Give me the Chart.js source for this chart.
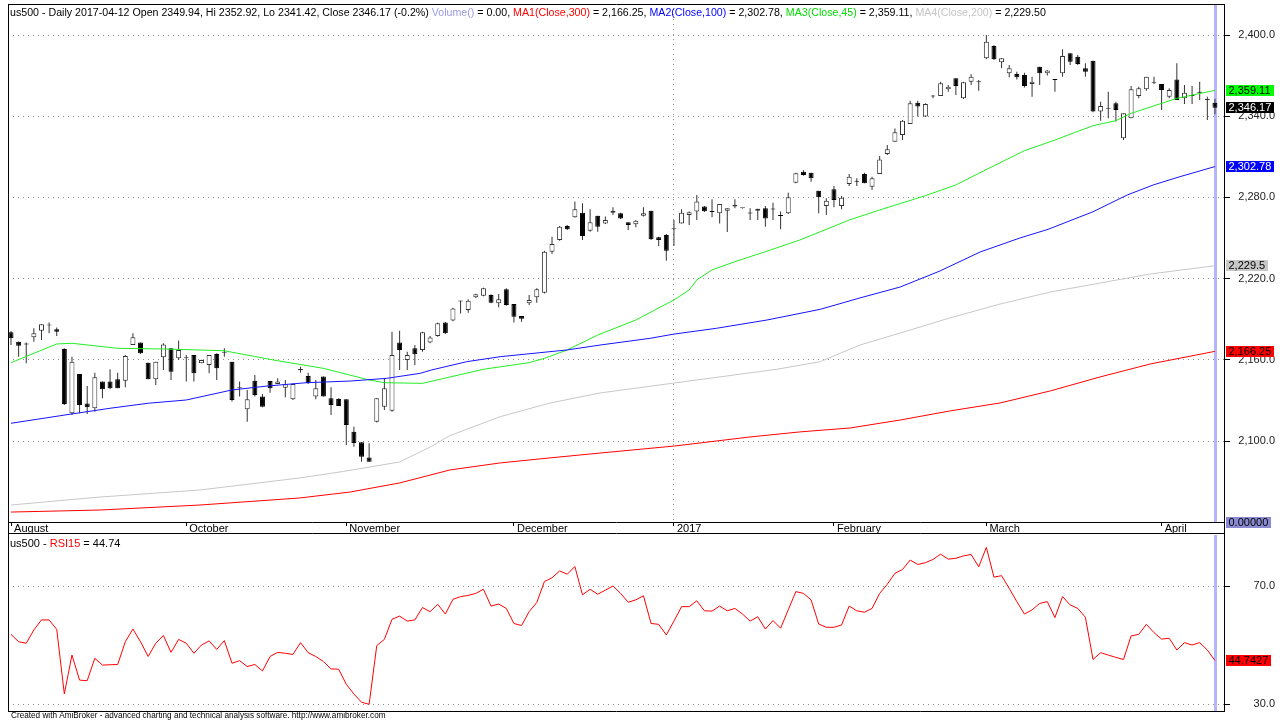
<!DOCTYPE html>
<html>
<head>
<meta charset="utf-8">
<script src="https://cdn.jsdelivr.net/npm/chart.js@4.4.1/dist/chart.umd.min.js"></script>
<style>
  html, body { margin: 0; padding: 0; background: #fff; }
  #wrap { position: relative; width: 1287px; height: 720px; overflow: hidden; background: #fff; }
  canvas { position: absolute; left: 0; }
  #main { top: 0; }
  #rsi { top: 534px; }
</style>
</head>
<body>
<div id="wrap">
  <canvas id="main" width="1287" height="534"></canvas>
  <canvas id="rsi" width="1287" height="186"></canvas>
</div>
<script>
'use strict';

/* ── data (bar index 0 = first bar, 158 = 2017-04-12) ── */

const opens = [
  2180.3, 2173.4, 2171.4, 2176.6, 2181.5, 2185.3, 2182.5, 2168.0, 2120.5, 2149.5,
  2127.8, 2124.2, 2143.9, 2143.9, 2145.6, 2144.6, 2171.0, 2172.7, 2157.9, 2145.6,
  2161.8, 2168.5, 2161.1, 2161.1, 2163.6, 2157.4, 2156.2, 2164.3, 2165.3, 2158.6,
  2138.9, 2123.4, 2144.6, 2132.8, 2144.3, 2142.1, 2139.4, 2130.8, 2152.5, 2148.0,
  2132.8, 2147.6, 2131.5, 2131.0, 2130.8, 2106.9, 2099.0, 2087.9, 2114.3, 2125.4,
  2122.4, 2172.7, 2159.9, 2168.5, 2167.3, 2172.7, 2177.6, 2187.5, 2189.0, 2203.0,
  2196.8, 2206.2, 2207.4, 2207.9, 2201.7, 2212.1, 2201.2, 2192.4, 2201.7, 2206.2,
  2209.6, 2239.9, 2248.5, 2258.9, 2265.3, 2268.7, 2255.4, 2266.5, 2260.8, 2268.7,
  2268.2, 2261.6, 2260.1, 2266.5, 2270.2, 2250.5, 2252.2, 2256.4, 2260.8, 2267.0,
  2269.5, 2273.2, 2269.5, 2268.2, 2270.2, 2273.2, 2271.9, 2268.2, 2270.2, 2271.9,
  2271.2, 2266.3, 2268.2, 2290.9, 2299.0, 2298.3, 2285.0, 2273.7, 2286.0, 2273.7,
  2289.9, 2291.7, 2297.3, 2287.9, 2297.3, 2312.1, 2321.2, 2326.1, 2334.2, 2350.0,
  2339.7, 2354.5, 2354.9, 2359.9, 2368.0, 2353.2, 2365.5, 2365.0, 2382.8, 2391.9,
  2379.8, 2371.7, 2371.2, 2370.5, 2363.8, 2376.6, 2371.7, 2366.8, 2371.7, 2386.5,
  2384.0, 2375.4, 2381.0, 2343.4, 2345.6, 2349.5, 2323.7, 2338.4, 2354.9, 2359.9,
  2364.3, 2363.8, 2354.4, 2367.2, 2353.2, 2355.0, 2357.5, 2352.0, 2349.94
];
const highs = [
  2181.3, 2173.6, 2172.7, 2183.3, 2186.2, 2187.5, 2183.8, 2168.5, 2162.3, 2149.5,
  2140.7, 2150.5, 2143.9, 2153.0, 2150.5, 2163.6, 2179.6, 2172.7, 2158.0, 2158.6,
  2172.2, 2168.5, 2174.2, 2163.6, 2163.6, 2160.0, 2163.6, 2164.8, 2168.5, 2158.6,
  2143.9, 2137.7, 2148.8, 2134.7, 2144.3, 2146.3, 2145.1, 2142.6, 2154.9, 2150.5,
  2145.1, 2147.6, 2139.7, 2131.5, 2130.8, 2110.6, 2099.0, 2098.3, 2131.5, 2145.8,
  2180.8, 2181.5, 2166.0, 2170.9, 2180.8, 2177.6, 2187.5, 2188.0, 2198.5, 2203.7,
  2204.7, 2208.9, 2213.3, 2208.4, 2208.6, 2212.8, 2201.2, 2192.4, 2207.9, 2212.8,
  2240.5, 2251.0, 2258.9, 2259.6, 2276.9, 2275.6, 2271.2, 2266.5, 2265.8, 2272.7,
  2268.7, 2261.6, 2263.3, 2272.7, 2270.2, 2251.0, 2253.0, 2263.3, 2271.2, 2269.5,
  2281.8, 2273.7, 2278.6, 2275.1, 2271.9, 2278.6, 2272.1, 2271.9, 2271.7, 2273.7,
  2276.1, 2269.5, 2283.5, 2298.2, 2300.0, 2298.3, 2285.0, 2279.3, 2288.4, 2281.0,
  2297.3, 2294.1, 2298.3, 2295.3, 2310.6, 2318.7, 2331.0, 2337.2, 2351.5, 2351.5,
  2349.5, 2355.7, 2365.5, 2363.1, 2368.0, 2365.5, 2371.0, 2366.8, 2400.0, 2392.4,
  2382.8, 2377.8, 2372.9, 2372.2, 2369.2, 2376.6, 2374.1, 2366.8, 2389.4, 2386.5,
  2385.2, 2379.1, 2381.0, 2350.7, 2358.1, 2350.7, 2342.1, 2362.3, 2361.8, 2369.2,
  2369.2, 2363.8, 2360.6, 2379.1, 2363.1, 2362.3, 2365.5, 2354.4, 2352.92
];
const lows = [
  2170.9, 2162.3, 2157.4, 2173.4, 2174.6, 2179.6, 2177.6, 2126.6, 2119.2, 2120.5,
  2120.0, 2121.7, 2131.5, 2138.2, 2138.9, 2139.7, 2171.0, 2164.3, 2145.6, 2141.4,
  2152.5, 2145.1, 2159.9, 2143.9, 2143.9, 2157.4, 2150.0, 2145.1, 2162.3, 2129.1,
  2132.8, 2114.3, 2132.8, 2124.9, 2135.7, 2142.1, 2132.3, 2130.3, 2150.5, 2142.1,
  2130.8, 2132.8, 2119.2, 2125.9, 2097.1, 2095.8, 2084.7, 2084.7, 2113.6, 2122.9,
  2121.7, 2152.5, 2152.5, 2156.2, 2166.0, 2172.2, 2177.0, 2179.0, 2188.5, 2194.3,
  2194.8, 2205.7, 2207.0, 2201.7, 2198.8, 2200.0, 2187.5, 2188.2, 2200.5, 2202.2,
  2209.0, 2238.2, 2248.0, 2256.0, 2265.0, 2248.5, 2254.7, 2254.7, 2260.4, 2267.0,
  2264.0, 2255.9, 2257.9, 2265.8, 2248.5, 2244.1, 2233.2, 2244.1, 2260.8, 2259.6,
  2263.3, 2269.2, 2265.3, 2260.8, 2254.4, 2271.9, 2271.8, 2263.3, 2263.3, 2258.4,
  2263.3, 2256.4, 2267.7, 2290.5, 2296.0, 2291.6, 2268.2, 2267.0, 2272.7, 2271.2,
  2288.4, 2288.4, 2290.4, 2285.5, 2297.3, 2311.3, 2321.2, 2322.4, 2334.2, 2339.7,
  2339.5, 2353.2, 2354.9, 2358.1, 2355.7, 2352.7, 2363.1, 2358.9, 2382.0, 2381.5,
  2375.4, 2368.7, 2367.2, 2361.3, 2354.4, 2363.1, 2370.0, 2358.1, 2369.2, 2377.8,
  2377.8, 2369.2, 2342.9, 2336.7, 2338.4, 2336.0, 2322.4, 2338.4, 2353.2, 2358.9,
  2363.8, 2344.6, 2353.2, 2352.0, 2349.0, 2349.0, 2352.0, 2337.2, 2341.42
];
const closes = [
  2175.9, 2170.4, 2171.3, 2179.6, 2186.2, 2186.0, 2180.8, 2127.4, 2158.6, 2126.6,
  2124.9, 2147.1, 2138.2, 2138.9, 2138.9, 2162.8, 2176.6, 2164.8, 2145.6, 2158.6,
  2171.4, 2151.2, 2167.3, 2161.8, 2150.0, 2159.9, 2163.6, 2153.7, 2165.4, 2130.3,
  2139.0, 2130.8, 2134.0, 2125.4, 2138.9, 2143.9, 2141.9, 2142.1, 2152.6, 2142.6,
  2138.9, 2132.8, 2126.6, 2125.9, 2111.8, 2098.5, 2088.4, 2084.7, 2131.5, 2138.9,
  2163.6, 2167.3, 2163.6, 2164.1, 2180.3, 2176.4, 2187.0, 2179.6, 2198.0, 2203.2,
  2203.7, 2208.4, 2212.8, 2202.2, 2204.7, 2200.5, 2191.9, 2190.4, 2204.2, 2212.1,
  2239.9, 2245.6, 2258.4, 2256.4, 2271.2, 2251.5, 2261.6, 2258.4, 2263.3, 2270.2,
  2264.5, 2259.6, 2262.8, 2268.2, 2249.0, 2248.5, 2240.6, 2256.6, 2268.7, 2269.0,
  2276.9, 2269.7, 2269.3, 2275.1, 2271.9, 2274.6, 2272.0, 2268.1, 2271.7, 2264.5,
  2271.0, 2266.2, 2280.1, 2297.8, 2296.6, 2294.1, 2280.1, 2277.6, 2278.1, 2279.8,
  2295.3, 2291.6, 2290.4, 2294.1, 2308.1, 2315.5, 2328.1, 2336.7, 2349.5, 2347.1,
  2349.0, 2355.2, 2364.3, 2361.8, 2362.3, 2365.0, 2369.2, 2365.1, 2395.1, 2382.0,
  2382.8, 2375.4, 2368.7, 2362.3, 2365.5, 2371.7, 2373.7, 2366.7, 2384.5, 2380.3,
  2378.6, 2372.9, 2343.4, 2347.6, 2346.0, 2344.6, 2342.1, 2359.9, 2360.6, 2369.2,
  2364.4, 2359.4, 2359.4, 2352.0, 2357.4, 2354.9, 2357.4, 2352.1, 2346.17
];

// moving averages, read as [bar index, value] points along each line
const ma300 = [
  [0, 2047.5], [11.7, 2049.0], [24.8, 2052.7], [37.9, 2057.9], [44.5, 2062.3], [51, 2069.0],
  [57.6, 2078.6], [64.2, 2083.8], [70.7, 2087.5], [77.3, 2091.1], [87.1, 2096.3], [97, 2103.0],
  [103.5, 2106.7], [110.1, 2109.6], [116.7, 2115.5], [123.2, 2122.2], [129.8, 2128.1],
  [136.4, 2137.0], [142.9, 2147.3], [149.5, 2156.9], [158, 2166.25]
];
const ma200 = [
  [0, 2052.7], [11.7, 2058.6], [24.8, 2063.8], [37.9, 2072.7], [43.6, 2077.5], [51, 2084.5],
  [55, 2095.5], [57.6, 2104.0], [64.2, 2118.0], [70.7, 2128.0], [77.3, 2135.5], [87.1, 2142.9],
  [100.5, 2153.0], [106.2, 2158.6], [111.4, 2170.9], [116.7, 2179.8], [123.2, 2190.9],
  [129.8, 2201.2], [136.4, 2210.1], [142.9, 2216.7], [149.5, 2223.4], [158, 2229.50]
];
const ma100 = [
  [0, 2113.1], [8, 2120.0], [13, 2124.2], [18, 2127.9], [23, 2130.3], [29, 2137.7], [33.6, 2140.6],
  [38.8, 2143.1], [44.5, 2144.3], [49.3, 2146.3], [53.7, 2150.0], [55.2, 2152.5], [59.8, 2158.6],
  [64.2, 2162.3], [73, 2167.3], [77.3, 2170.9], [83.9, 2175.9], [86.9, 2178.9], [92.6, 2183.3],
  [99.2, 2189.4], [106.2, 2197.3], [111.4, 2205.7], [116.7, 2213.8], [121.9, 2225.6],
  [127.2, 2239.7], [132.4, 2250.0], [136.1, 2256.4], [142, 2269.4], [146.5, 2281.8],
  [149.9, 2289.2], [153.4, 2295.3], [158, 2302.78]
];
const ma45 = [
  [0, 2157.9], [6, 2171.7], [8, 2172.2], [14, 2168.5], [20, 2168.0], [28, 2166.7], [29, 2165.6],
  [35, 2159.3], [41, 2153.7], [47, 2145.1], [49, 2143.1], [54, 2142.6], [62, 2153.0], [68, 2157.9],
  [70, 2161.1], [73, 2167.3], [77, 2178.3], [82, 2189.4], [87, 2204.2], [89, 2211.6], [90, 2219.0],
  [92, 2226.4], [95, 2232.5], [99, 2239.9], [103.5, 2248.5], [107, 2256.4], [110, 2263.3],
  [114, 2270.7], [120, 2281.3], [124, 2289.2], [127, 2297.8], [133, 2314.5], [137, 2322.4],
  [142, 2333.0], [145, 2336.7], [147, 2342.1], [151, 2349.5], [153, 2353.2], [158, 2359.11]
];

const rsi15 = [
  53.6, 51.1, 50.6, 55.1, 58.5, 58.5, 55.3, 33.4, 46.6, 38.1,
  37.9, 45.5, 43.2, 43.3, 43.4, 51.1, 55.4, 51.1, 46.1, 50.6,
  53.2, 47.5, 51.9, 50.6, 47.2, 50.0, 51.4, 48.5, 51.5, 43.8,
  44.7, 42.7, 43.4, 41.2, 46.1, 47.5, 47.2, 46.8, 50.8, 47.4,
  46.1, 44.4, 41.9, 41.8, 36.7, 33.4, 30.6, 29.9, 49.8, 51.9,
  58.7, 59.8, 58.1, 58.5, 62.7, 61.3, 63.8, 60.5, 65.5, 66.4,
  66.8, 67.5, 68.9, 63.2, 63.9, 62.4, 57.3, 56.6, 61.3, 64.4,
  71.5, 72.8, 75.1, 74.0, 76.6, 67.0, 68.9, 67.2, 68.6, 70.0,
  67.5, 64.5, 65.3, 66.7, 57.3, 57.0, 53.4, 58.1, 63.0, 63.0,
  65.0, 61.6, 61.5, 63.2, 61.6, 62.4, 60.5, 58.1, 59.6, 55.4,
  58.3, 55.7, 61.9, 68.1, 67.5, 65.3, 57.1, 56.0, 56.0, 56.8,
  63.2, 61.6, 61.1, 62.4, 67.5, 70.6, 74.3, 75.6, 78.8, 77.3,
  77.9, 79.0, 80.8, 79.1, 79.4, 80.2, 80.7, 76.5, 83.1, 73.0,
  73.5, 69.2, 64.7, 60.5, 61.9, 64.1, 64.7, 59.3, 66.4, 63.6,
  62.4, 59.4, 45.1, 47.4, 46.6, 45.8, 45.1, 53.1, 53.6, 57.0,
  54.2, 52.0, 52.3, 48.3, 50.8, 50.0, 50.8, 48.3, 44.7427
];

const monthTicks = [0, 23, 44, 66, 87, 108, 128, 151];
const monthNames = ['August', 'October', 'November', 'December', '2017', 'February', 'March', 'April'];
const priceTicks = [2100, 2160, 2220, 2280, 2340, 2400];
const rsiTicks = [30, 70];

/* ── layout / style ───────────────────────────────────────── */

const FONT = "'Liberation Sans', Arial, sans-serif";
Chart.defaults.font.family = FONT;
Chart.defaults.font.size = 11;
Chart.defaults.color = '#000';

const xMin = -0.394, xMax = 159.32;
const last = closes.length - 1;
const yearTick = monthTicks[monthNames.indexOf('2017')];
const DOT = '#8c8c8c';

const pts = arr => arr.map(([x, y]) => ({ x, y }));
const lastOf = arr => arr[arr.length - 1][1];

function fmt(v, minD, maxD) {
  return v.toLocaleString('en-US', { minimumFractionDigits: minD, maximumFractionDigits: maxD });
}

function fitFont(ctx, text, target, base) {
  ctx.font = base + 'px ' + FONT;
  return base * target / ctx.measureText(text).width;
}

function drawSegments(ctx, x, y, segs, size) {
  ctx.font = size + 'px ' + FONT;
  ctx.textBaseline = 'alphabetic';
  ctx.textAlign = 'left';
  for (const [t, c] of segs) {
    ctx.fillStyle = c;
    ctx.fillText(t, x, y);
    x += ctx.measureText(t).width;
  }
}

function valueBox(ctx, x, yc, text, bg, fg) {
  ctx.font = '11px ' + FONT;
  ctx.textBaseline = 'middle';
  ctx.textAlign = 'left';
  const w = Math.ceil(ctx.measureText(text).width) + 5;
  const top = Math.round(yc - 5.5);
  ctx.fillStyle = bg;
  ctx.fillRect(x, top, w, 11);
  ctx.fillStyle = fg;
  ctx.fillText(text, x + 2.5, top + 6);
}

function markerLine(chart) {
  const { ctx, chartArea: a, scales: { x } } = chart;
  const px = Math.round(x.getPixelForValue(last));
  ctx.save();
  ctx.fillStyle = '#b4b4ff';
  ctx.fillRect(px - 1, a.top, 3, a.bottom - a.top);
  ctx.restore();
}

// axis boxes keep a fixed size and add no label overhang to the layout
const fixBox = (w, h) => s => {
  if (w) s.width = w;
  if (h) s.height = h;
  s.paddingTop = 0; s.paddingBottom = 0; s.paddingLeft = 0; s.paddingRight = 0;
};

const isUp = i => closes[i] >= opens[i];

// ── main panel decorations ──────────────────────────────────
const mainDecor = {
  id: 'mainDecor',
  beforeDatasetsDraw(chart) { markerLine(chart); },
  afterDraw(chart) {
    const { ctx, chartArea: a, scales: { y } } = chart;
    const H = chart.height;
    ctx.save();
    ctx.strokeStyle = '#000';
    ctx.lineWidth = 1;
    ctx.beginPath();
    ctx.moveTo(a.left, a.top + 0.5); ctx.lineTo(a.right, a.top + 0.5);
    ctx.moveTo(a.left + 0.5, a.top); ctx.lineTo(a.left + 0.5, H);
    ctx.moveTo(a.right - 0.5, a.top); ctx.lineTo(a.right - 0.5, H);
    ctx.moveTo(a.left, a.bottom + 0.5); ctx.lineTo(a.right, a.bottom + 0.5);
    ctx.moveTo(a.left, H - 0.5); ctx.lineTo(a.right, H - 0.5);
    ctx.stroke();

    const head = [
      ['us500 - Daily 2017-04-12 Open ' + opens[last] + ', Hi ' + highs[last] + ', Lo ' + lows[last] +
        ', Close ' + closes[last] + ' (-0.2%) ', '#000'],
      ['Volume()', '#9a9ae6'],
      [' = 0.00, ', '#000'],
      ['MA1(Close,300)', '#ff0000'],
      [' = ' + fmt(lastOf(ma300), 2, 2) + ', ', '#000'],
      ['MA2(Close,100)', '#0000ff'],
      [' = ' + fmt(lastOf(ma100), 2, 2) + ', ', '#000'],
      ['MA3(Close,45)', '#00dd00'],
      [' = ' + fmt(lastOf(ma45), 2, 2) + ', ', '#000'],
      ['MA4(Close,200)', '#c4c4c4'],
      [' = ' + fmt(lastOf(ma200), 2, 2), '#000']
    ];
    const size = fitFont(ctx, head.map(s => s[0]).join(''), 1037, 11);
    drawSegments(ctx, 10, 16, head, size);

    const bx = a.right + 1;
    valueBox(ctx, bx, a.bottom, '0.00000', '#8a8ad2', '#000');
    valueBox(ctx, bx, y.getPixelForValue(lastOf(ma300)), fmt(lastOf(ma300), 1, 2), '#ff0000', '#000');
    valueBox(ctx, bx, y.getPixelForValue(lastOf(ma200)), fmt(lastOf(ma200), 1, 2), '#c8c8c8', '#000');
    valueBox(ctx, bx, y.getPixelForValue(lastOf(ma100)), fmt(lastOf(ma100), 1, 2), '#0000ff', '#fff');
    valueBox(ctx, bx, y.getPixelForValue(closes[last]), fmt(closes[last], 1, 2), '#000', '#fff');
    valueBox(ctx, bx, y.getPixelForValue(lastOf(ma45)), fmt(lastOf(ma45), 1, 2), '#00ff00', '#000');
    ctx.restore();
  }
};

// ── RSI panel decorations ───────────────────────────────────
const rsiDecor = {
  id: 'rsiDecor',
  beforeDatasetsDraw(chart) { markerLine(chart); },
  afterDraw(chart) {
    const { ctx, chartArea: a, scales: { y } } = chart;
    ctx.save();
    ctx.strokeStyle = '#000';
    ctx.lineWidth = 1;
    ctx.beginPath();
    ctx.moveTo(a.left + 0.5, 0); ctx.lineTo(a.left + 0.5, a.bottom);
    ctx.moveTo(a.right - 0.5, 0); ctx.lineTo(a.right - 0.5, a.bottom);
    ctx.moveTo(a.left, a.bottom - 0.5); ctx.lineTo(a.right, a.bottom - 0.5);
    ctx.stroke();

    const rsiLast = rsi15[last];
    drawSegments(ctx, 10, 13, [['us500 - ', '#000'], ['RSI15', '#ff0000'], [' = ' + fmt(rsiLast, 2, 2), '#000']], 11);
    valueBox(ctx, a.right + 1, y.getPixelForValue(rsiLast), fmt(rsiLast, 1, 4), '#ff0000', '#000');

    const credit = 'Created with AmiBroker - advanced charting and technical analysis software. http://www.amibroker.com';
    const cs = fitFont(ctx, credit, 375, 8);
    drawSegments(ctx, 11, 184, [[credit, '#000']], cs);
    ctx.restore();
  }
};

/* ── charts ───────────────────────────────────────────────── */

const lineDs = (data, color) => ({
  type: 'line', data: pts(data), borderColor: color, borderWidth: 1,
  pointRadius: 0, tension: 0, fill: false, order: 0
});

const yGrid = {
  color: DOT, lineWidth: 1, borderDash: [1, 4], tickBorderDash: [],
  tickColor: '#000', tickLength: 5, tickWidth: 1
};

const mainChart = new Chart(document.getElementById('main'), {
  type: 'bar',
  data: {
    datasets: [
      lineDs(ma300, '#ff0000'),
      lineDs(ma200, '#c8c8c8'),
      lineDs(ma100, '#1414ff'),
      lineDs(ma45, '#22ee22'),
      {
        data: closes.map((c, i) => ({ x: i, y: [lows[i], highs[i]] })),
        backgroundColor: '#333', borderWidth: 0, barThickness: 1,
        grouped: false, inflateAmount: 0, order: 2
      },
      {
        data: closes.map((c, i) => ({ x: i, y: [opens[i], c] })),
        backgroundColor: ctx => isUp(ctx.dataIndex) ? '#fff' : '#000',
        borderColor: ctx => isUp(ctx.dataIndex) ? '#333' : '#000',
        borderWidth: 1, borderSkipped: false, barThickness: 5, minBarLength: 1,
        grouped: false, inflateAmount: 0, order: 1
      }
    ]
  },
  options: {
    responsive: false,
    animation: false,
    devicePixelRatio: 1,
    layout: { padding: { left: 8, top: 4, right: 12, bottom: 0 } },
    plugins: { legend: { display: false }, tooltip: { enabled: false } },
    scales: {
      x: {
        type: 'linear', min: xMin, max: xMax, offset: false,
        afterBuildTicks: s => { s.ticks = monthTicks.map(v => ({ value: v })); },
        afterFit: fixBox(0, 12),
        ticks: {
          align: 'start', padding: -3, maxRotation: 0, minRotation: 0, autoSkip: false,
          font: { size: 11, lineHeight: 1 }, color: '#000',
          callback: v => ' ' + monthNames[monthTicks.indexOf(v)]
        },
        grid: {
          offset: false, drawOnChartArea: true, lineWidth: 1,
          color: c => (c.tick && c.tick.value === yearTick) ? DOT : 'rgba(0,0,0,0)',
          borderDash: [1, 4], tickBorderDash: [], tickColor: '#000', tickLength: 4, tickWidth: 1
        },
        border: { display: false, dash: [1, 4] }
      },
      y: {
        position: 'right', min: 2040.15, max: 2422.91, beginAtZero: false,
        afterBuildTicks: s => { s.ticks = priceTicks.map(v => ({ value: v })); },
        afterFit: fixBox(50, 0),
        ticks: { crossAlign: 'far', padding: 8, color: '#222', callback: v => fmt(v, 1, 1) },
        grid: yGrid,
        border: { display: false, dash: [1, 4] }
      }
    }
  },
  plugins: [mainDecor]
});

const rsiChart = new Chart(document.getElementById('rsi'), {
  type: 'line',
  data: {
    datasets: [{
      data: rsi15.map((v, i) => ({ x: i, y: v })),
      borderColor: '#ff0000', borderWidth: 1, pointRadius: 0, tension: 0, fill: false
    }]
  },
  options: {
    responsive: false,
    animation: false,
    devicePixelRatio: 1,
    layout: { padding: { left: 8, top: 1, right: 12, bottom: 8 } },
    plugins: { legend: { display: false }, tooltip: { enabled: false } },
    scales: {
      x: { type: 'linear', min: xMin, max: xMax, display: false },
      y: {
        position: 'right', min: 27.29, max: 87.29,
        afterBuildTicks: s => { s.ticks = rsiTicks.map(v => ({ value: v })); },
        afterFit: fixBox(50, 0),
        ticks: { crossAlign: 'far', padding: 8, color: '#222', callback: v => fmt(v, 1, 1) },
        grid: yGrid,
        border: { display: false, dash: [1, 4] }
      }
    }
  },
  plugins: [rsiDecor]
});
</script>
</body>
</html>
